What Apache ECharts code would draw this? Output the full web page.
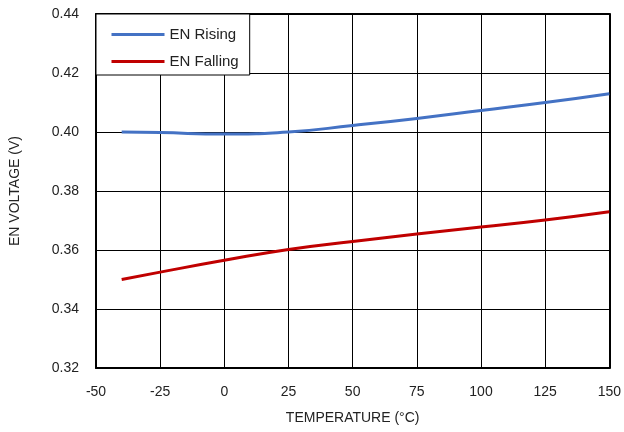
<!DOCTYPE html>
<html><head><meta charset="utf-8">
<script src="https://cdn.jsdelivr.net/npm/echarts@6/dist/echarts.min.js"></script>
<style>html,body{margin:0;padding:0;background:#fff}#c{width:624px;height:432px}</style>
</head><body><div id="c"></div>
<script>
const temps = [-40, -25, 0, 25, 50, 75, 100, 125, 150];
const enRising = [0.4000, 0.3998, 0.3993, 0.4000, 0.4022, 0.4046, 0.4073, 0.4100, 0.4130];
const enFalling = [0.3500, 0.3525, 0.3565, 0.3602, 0.3629, 0.3654, 0.3678, 0.3702, 0.3730];
const xTicks = [-50, -25, 0, 25, 50, 75, 100, 125, 150];
const yTicks = [0.32, 0.34, 0.36, 0.38, 0.40, 0.42, 0.44];

const font = 'Liberation Sans, Arial, sans-serif';
const chart = echarts.init(document.getElementById('c'));
const frameAxis = {show: true, axisLine: {onZero: false, lineStyle: {color: '#000', width: 2}},
  axisTick: {show: false}, axisLabel: {show: false}, splitLine: {show: false}};
chart.setOption({
  animation: false,
  backgroundColor: '#fff',
  grid: {left: 96, right: 14, top: 14, bottom: 64, containLabel: false},
  legend: {
    orient: 'vertical', left: 96, top: 14,
    backgroundColor: '#fff', borderColor: '#000', borderWidth: 1,
    padding: [13, 11, 6, 14], itemWidth: 53, itemHeight: 14, itemGap: 12,
    itemStyle: {opacity: 0},
    lineStyle: {width: 3},
    textStyle: {fontFamily: font, fontSize: 15, color: '#222'},
    data: ['EN Rising', 'EN Falling']
  },
  xAxis: [{
    type: 'value', min: xTicks[0], max: xTicks[xTicks.length-1], interval: 25,
    name: 'TEMPERATURE (°C)', nameLocation: 'middle', nameGap: 43,
    nameTextStyle: {fontFamily: font, fontSize: 14, color: '#222'},
    axisLine: {onZero: false, lineStyle: {color: '#000', width: 2}},
    axisTick: {show: false},
    axisLabel: {fontFamily: font, fontSize: 14, color: '#222', margin: 17},
    splitLine: {lineStyle: {color: '#000', width: 1}}
  }, Object.assign({type: 'value', position: 'top', min: xTicks[0], max: xTicks[xTicks.length-1]}, frameAxis)],
  yAxis: [{
    type: 'value', min: yTicks[0], max: yTicks[yTicks.length-1], interval: 0.02,
    name: 'EN VOLTAGE (V)', nameLocation: 'middle', nameGap: 74, nameRotate: 90,
    nameTextStyle: {fontFamily: font, fontSize: 14, color: '#222'},
    axisLine: {onZero: false, lineStyle: {color: '#000', width: 2}},
    axisTick: {show: false},
    axisLabel: {fontFamily: font, fontSize: 14, color: '#222', margin: 17,
      formatter: v => v.toFixed(2)},
    splitLine: {lineStyle: {color: '#000', width: 1}}
  }, Object.assign({type: 'value', position: 'right', min: yTicks[0], max: yTicks[yTicks.length-1]}, frameAxis)],
  series: [
    {name: 'EN Rising', type: 'line', smooth: true, symbol: 'none',
     lineStyle: {color: '#4472C4', width: 3}, itemStyle: {color: '#4472C4'},
     data: temps.map((t, i) => [t, enRising[i]])},
    {name: 'EN Falling', type: 'line', smooth: true, symbol: 'none',
     lineStyle: {color: '#C00000', width: 3}, itemStyle: {color: '#C00000'},
     data: temps.map((t, i) => [t, enFalling[i]])}
  ]
});
</script></body></html>
